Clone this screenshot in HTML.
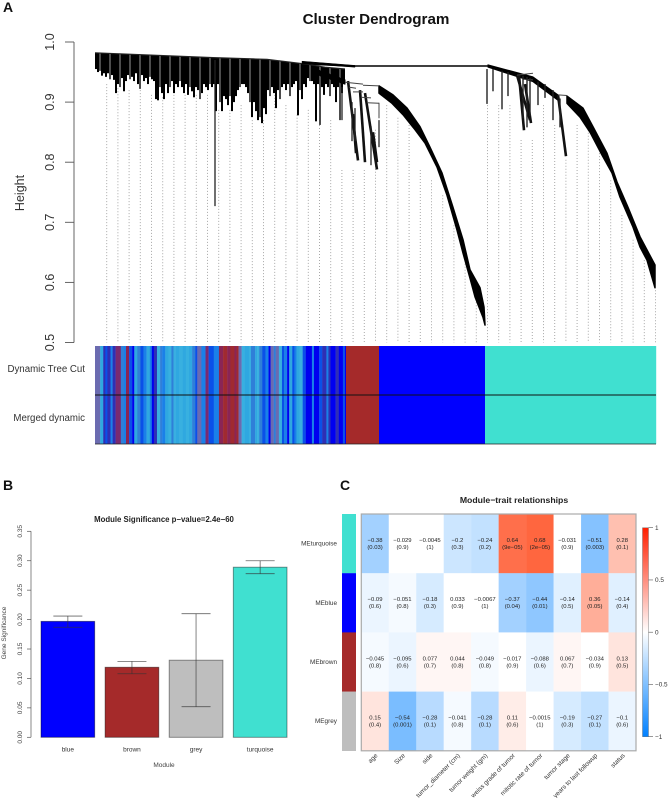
<!DOCTYPE html>
<html lang="en">
<head>
<meta charset="utf-8">
<title>WGCNA module figure</title>
<style>
html,body{margin:0;padding:0;background:#fff;width:669px;height:798px;overflow:hidden}
svg{display:block;filter:blur(0.3px)}
text{font-family:"Liberation Sans",Arial,sans-serif}
</style>
</head>
<body>
<svg id="figure" xmlns="http://www.w3.org/2000/svg" width="669" height="798" viewBox="0 0 669 798">
  <defs>
    <linearGradient id="legendGradient" x1="0" y1="0" x2="0" y2="1">
      <stop offset="0" stop-color="#ff1f00"/>
      <stop offset="0.5" stop-color="#ffffff"/>
      <stop offset="1" stop-color="#0080ff"/>
    </linearGradient>
  </defs>
  <rect width="669" height="798" fill="#fff"/>

  <text x="3" y="12" font-size="14" font-weight="bold" fill="#111">A</text>
  <text x="376" y="24" font-size="15.2" font-weight="bold" text-anchor="middle" fill="#111">Cluster Dendrogram</text>
  <text transform="translate(24,193) rotate(-90)" font-size="12.5" text-anchor="middle" fill="#333">Height</text>
  <text x="85" y="372" font-size="9.7" text-anchor="end" fill="#333">Dynamic Tree Cut</text>
  <text x="85" y="421" font-size="9.7" text-anchor="end" fill="#333">Merged dynamic</text>
  <g id="dendroLayer"></g>
  <g id="stripLayer"></g>

  <text x="3" y="490" font-size="14" font-weight="bold" fill="#111">B</text>
  <text x="164" y="522" font-size="7.8" font-weight="bold" text-anchor="middle" fill="#222">Module Significance p−value=2.4e−60</text>
  <text transform="translate(6,633) rotate(-90)" font-size="6.5" text-anchor="middle" fill="#444">Gene Significance</text>
  <text x="164" y="767" font-size="6.5" text-anchor="middle" fill="#444">Module</text>
  <g id="barLayer"></g>

  <text x="340" y="490" font-size="14" font-weight="bold" fill="#111">C</text>
  <text x="514" y="503" font-size="8.7" font-weight="bold" text-anchor="middle" fill="#222">Module−trait relationships</text>
  <g id="heatLayer"></g>
  <g id="legendLayer"></g>
</svg>

<script>
/* ---------- Dendrogram data (gene rank, merge height) ---------- */
const geneCount = 561;
const heightTicks = [0.5, 0.6, 0.7, 0.8, 0.9, 1.0];
const envelopeRanks = [0, 118, 172, 212, 230, 250];
const envelopeHeights = [0.982, 0.974, 0.971, 0.963, 0.958, 0.955];
const leafBottoms = [
.955,.950,.952,.944,.948,.942,.948,.938,.945,.937,.915,.930,.925,.940,.918,.935,.945,.938,.942,.935,
.948,.930,.922,.945,.935,.940,.930,.942,.938,.935,.905,.903,.925,.915,.905,.930,.915,.925,.935,.915,
.930,.925,.935,.925,.915,.930,.912,.925,.918,.908,.925,.920,.905,.915,.930,.925,.920,.930,.925,.930,
.885,.930,.900,.885,.910,.905,.895,.910,.885,.900,.910,.920,.925,.930,.930,.925,.915,.900,.875,.900,
.885,.870,.875,.865,.890,.880,.920,.910,.925,.915,.890,.920,.905,.925,.930,.920,.930,.910,.925,.930,
.935,.878,.920,.905,.930,.925,.940,.935,.935,.930,.868,.930,.862,.925,.912,.930,.925,.910,.930,.925,
.900,.925,.870,.915,.930];
const longBranchRank = 120;
const longBranchTop = 0.97;
const longBranchBottom = 0.727;
const guideTopHeights = [.930,.923,.920,.920,.912,.908,.912,.912,.912,.912,.887,.887,.895,.870,.870,.912,.895,.879,.887,.862,.870,.787,.787,.787,.854,.895,.874,.862,.787,.770,.745,.695,.646,.587,.895,.895,.895,.837,.837,.895,.862,.804,.862,.854,.820,.770,.712,.671,.637,.587];
const mainMerge = [[212,.963],[260,.960],[393,.960]];
const wedgeToBrownUpper = [[207,.968],[260,.961]];
const wedgeToBrownLower = [[207,.964],[260,.958]];
const blueTrunkUpper = [[220,.955],[250,.937]];
const blueTrunkLower = [[220,.947],[250,.930]];
const blueUpper = [[284,.927],[298,.912],[312,.890],[325,.859],[335,.825],[347,.782],[358,.725],[368,.671],[375,.621],[385,.591],[389,.559],[390,.529]];
const blueLower = [[284,.915],[297,.898],[308,.879],[320,.854],[330,.832],[342,.792],[352,.745],[362,.687],[368,.649],[375,.607],[380,.576],[388,.542],[390,.529]];
const turquoiseTrunkUpper = [[393,.962],[438,.942],[463,.912]];
const turquoiseTrunkLower = [[393,.958],[438,.934],[463,.903]];
const turquoiseUpper = [[472,.910],[488,.890],[498,.859],[512,.815],[522,.767],[533,.725],[545,.676],[560,.629]];
const turquoiseLower = [[472,.898],[485,.875],[495,.850],[507,.812],[517,.782],[525,.742],[538,.692],[545,.659],[552,.637],[560,.591]];
const cascadeBranches = [
  [[253,.935],[263,.803]], [[258,.880],[261,.815]], [[265,.920],[270,.800]], [[270,.915],[282,.788]],
  [[278,.850],[282,.800]], [[463,.912],[471,.810]], [[422,.945],[435,.870]], [[424,.945],[429,.853]],
  [[430,.930],[436,.865]]
];
const stairSteps = [
  [[250,.933],[268,.930]], [[268,.928],[284,.927]], [[254,.925],[261,.923]],
  [[258,.917],[268,.917]], [[266,.908],[276,.907]], [[272,.899],[284,.898]],
  [[284,.899],[284,.873]], [[422,.945],[438,.948]], [[428,.938],[438,.937]],
  [[463,.912],[472,.911]]
];
const sideSpikeRanks = [392,398,407,413,428,432,435,443,450,458,465];
const sideSpikeTops = [.955,.955,.952,.950,.944,.942,.940,.934,.930,.920,.906];
const sideSpikeBottoms = [.897,.918,.888,.910,.873,.858,.877,.895,.907,.870,.858];
const midStubRanks = [257,260,276,284,247];
const midStubTops = [.900,.890,.860,.870,.925];
const midStubBottoms = [.835,.835,.795,.825,.870];

/* ---------- Colour strip data ---------- */
const stripeWidths = [5,3,2,2,3,2,3,5,3,2,3,3,2,3,3,3,3,3,2,2,3,3,2,3,3,3,2,2,4,3,3,3,3,3,2,4,4,3,5,5,4,4,3,4,2,2,3,3,4,2,4,2,2,3,3,3,2,3,2,3,3,2,3,2,3,2,2,3,3,3,6,2,5,3,4,2,2,5,3,4,2,1];
const stripeColours = ["#6b6bb0","#2fa8e0","#2f2fb5","#0a50e8","#2f2fb5","#1a80e8","#2f2fb5","#7a2a70","#2f7fd8","#1a80e8","#8a2555","#0a50e8","#0000f0","#2fa8e0","#2f7fd8","#0a50e8","#1a80e8","#2fa8e0","#1a80e8","#0000f0","#2f2fb5","#38b0e0","#2f7fd8","#1a80e8","#2fa8e0","#38b0e0","#2f7fd8","#38b0e0","#2fa8e0","#38b0e0","#2fa8e0","#38b0e0","#2fa8e0","#2f7fd8","#0a50e8","#6b6bb0","#1a80e8","#7a2a70","#0a50e8","#1a80e8","#8a2555","#a02a30","#8a2555","#a02a30","#8a2555","#a02a30","#6b6bb0","#38b0e0","#2fa8e0","#38b0e0","#2f7fd8","#2fa8e0","#38b0e0","#2f7fd8","#0a50e8","#1a80e8","#0000f0","#6b6bb0","#2f7fd8","#6b6bb0","#38b0e0","#0a50e8","#1a80e8","#0000f0","#2fa8e0","#0a50e8","#1a80e8","#2fa8e0","#38b0e0","#0a50e8","#0000f0","#1a80e8","#0000f0","#0a50e8","#2f2fb5","#1a80e8","#2f2fb5","#0000f0","#2f2fb5","#0000f0","#0a50e8","#0000f0"];
const moduleStripWidths = [33, 106, 171];
const moduleStripColours = ["#a52a2a", "#0000ff", "#40e0d0"];

/* ---------- Bar chart data ---------- */
const barModules = ["blue", "brown", "grey", "turquoise"];
const barColours = ["#0000ff", "#a52a2a", "#bebebe", "#40e0d0"];
const barValues = [0.197, 0.119, 0.131, 0.289];
const barErrHigh = [0.206, 0.129, 0.210, 0.300];
const barErrLow = [0.187, 0.108, 0.052, 0.278];
const barTicks = ["0.00", "0.05", "0.10", "0.15", "0.20", "0.25", "0.30", "0.35"];

/* ---------- Heatmap data ---------- */
const heatModules = ["MEturquoise", "MEblue", "MEbrown", "MEgrey"];
const heatModuleColours = ["#40e0d0", "#0000ff", "#a52a2a", "#bebebe"];
const heatTraits = ["age", "Size", "side", "tumor_diameter (cm)", "tumor weight (gm)", "weiss grade of tumor", "mitotic rate of tumor", "tumor stage", "years to last followup", "status"];
const corrTurquoise = [-0.38, -0.029, -0.0045, -0.2, -0.24, 0.64, 0.68, -0.031, -0.51, 0.28];
const corrBlue = [-0.09, -0.051, -0.18, 0.033, -0.0067, -0.37, -0.44, -0.14, 0.36, -0.14];
const corrBrown = [-0.045, -0.095, 0.077, 0.044, -0.049, -0.017, -0.088, 0.067, -0.034, 0.13];
const corrGrey = [0.15, -0.54, -0.28, -0.041, -0.28, 0.11, -0.0015, -0.19, -0.27, -0.1];
const pTurquoise = ["0.03", "0.9", "1", "0.3", "0.2", "9e−05", "2e−05", "0.9", "0.003", "0.1"];
const pBlue = ["0.6", "0.8", "0.3", "0.9", "1", "0.04", "0.01", "0.5", "0.05", "0.4"];
const pBrown = ["0.8", "0.6", "0.7", "0.8", "0.8", "0.9", "0.6", "0.7", "0.9", "0.5"];
const pGrey = ["0.4", "0.001", "0.1", "0.8", "0.1", "0.6", "1", "0.3", "0.1", "0.6"];
const legendTicks = [1, 0.5, 0, -0.5, -1];

/* ---------- Helpers ---------- */
const NS = "http://www.w3.org/2000/svg";
function mk(tag, attrs, parent) {
  const el = document.createElementNS(NS, tag);
  for (const k in attrs) el.setAttribute(k, attrs[k]);
  parent.appendChild(el);
  return el;
}
const dendroX = r => 95 + r * (561 / geneCount);
const dendroY = h => 42 + (1 - h) * 601;
const ptsOf = arr => arr.map(p => dendroX(p[0]).toFixed(1) + "," + dendroY(p[1]).toFixed(1)).join(" ");
function envelopeAt(r) {
  for (let i = 1; i < envelopeRanks.length; i++) {
    if (r <= envelopeRanks[i]) {
      const t = (r - envelopeRanks[i - 1]) / (envelopeRanks[i] - envelopeRanks[i - 1]);
      return envelopeHeights[i - 1] + t * (envelopeHeights[i] - envelopeHeights[i - 1]);
    }
  }
  return envelopeHeights[envelopeHeights.length - 1];
}

/* ---------- Dendrogram ---------- */
(function () {
  const g = document.getElementById("dendroLayer");
  guideTopHeights.forEach((h, i) => {
    const x = 106.7 + 11.2 * i;
    const guide = mk("line", {x1: x, x2: x, y1: dendroY(h), y2: dendroY(0.5), stroke: "#a8a8a8", "stroke-width": 1, "stroke-dasharray": "1 2"}, g);
    
    
  });
  const axis = mk("line", {x1: 74, x2: 74, y1: dendroY(1), y2: dendroY(0.5), stroke: "#555", "stroke-width": 0.9}, g);
  
  
  heightTicks.forEach(t => {
    const y = dendroY(t);
    const tick = mk("line", {x1: 65, x2: 74, y1: y, y2: y, stroke: "#555", "stroke-width": 0.9}, g);
    
    
    const label = mk("text", {transform: "translate(54," + y + ") rotate(-90)", "font-size": 12.5, "text-anchor": "middle", fill: "#333"}, g);
    label.textContent = t.toFixed(1);
    
    
  });
  leafBottoms.forEach((h, i) => {
    const r = 1 + i * 2;
    const x = dendroX(r);
    const leaf = mk("line", {x1: x, x2: x, y1: dendroY(envelopeAt(r)), y2: dendroY(h), stroke: "#000", "stroke-width": i % 5 === 2 ? 1.4 : 2}, g);
    
    
  });
  const lb = mk("line", {x1: dendroX(longBranchRank), x2: dendroX(longBranchRank), y1: dendroY(longBranchTop), y2: dendroY(longBranchBottom), stroke: "#222", "stroke-width": 1.3}, g);
  
  
  const mm = mk("polyline", {points: ptsOf(mainMerge), fill: "none", stroke: "#000", "stroke-width": 1.4}, g);
  
  
  const envPts = envelopeRanks.map((r, i) => [r, envelopeHeights[i]]);
  const top = mk("polyline", {points: ptsOf(envPts), fill: "none", stroke: "#222", "stroke-width": 1.2}, g);
  
  
  [[wedgeToBrownUpper, wedgeToBrownLower, 0.5], [blueTrunkUpper, blueTrunkLower, 1], [blueUpper, blueLower, 1.5], [turquoiseTrunkUpper, turquoiseTrunkLower, 1], [turquoiseUpper, turquoiseLower, 1.5]].forEach(pair => {
    const band = mk("polygon", {points: ptsOf(pair[0]) + " " + ptsOf(pair[1].slice().reverse()), fill: "#000", stroke: "#000", "stroke-width": pair[2], "stroke-linejoin": "round"}, g);
    
    
  });
  cascadeBranches.forEach(c => {
    const b = mk("polyline", {points: ptsOf(c), fill: "none", stroke: "#111", "stroke-width": 2.6}, g);
    
    
  });
  stairSteps.forEach(c => {
    const b = mk("polyline", {points: ptsOf(c), fill: "none", stroke: "#444", "stroke-width": 1}, g);
    
    
  });
  sideSpikeRanks.forEach((r, i) => {
    const s = mk("line", {x1: dendroX(r), x2: dendroX(r), y1: dendroY(sideSpikeTops[i]), y2: dendroY(sideSpikeBottoms[i]), stroke: "#222", "stroke-width": 1.4}, g);
    
    
  });
  midStubRanks.forEach((r, i) => {
    const s = mk("line", {x1: dendroX(r), x2: dendroX(r), y1: dendroY(midStubTops[i]), y2: dendroY(midStubBottoms[i]), stroke: "#222", "stroke-width": 1.3}, g);
    
    
  });
})();

/* ---------- Colour strips ---------- */
(function () {
  const g = document.getElementById("stripLayer");
  const stripeTotal = stripeWidths.reduce((a, b) => a + b, 0);
  const stripeScale = 251 / stripeTotal;
  let r = 0;
  const add = (w, c) => {
    const s = mk("rect", {x: dendroX(r), y: 346, width: w + 0.2, height: 98, fill: c}, g);
    
    
    r += w;
  };
  stripeWidths.forEach((w, i) => add(w * stripeScale, stripeColours[i]));
  r = 251;
  moduleStripWidths.forEach((w, i) => add(w, moduleStripColours[i]));
  const divider = mk("line", {x1: 95, x2: 656, y1: 395, y2: 395, stroke: "#111", "stroke-width": 1}, g);
  
  
  const bottom = mk("line", {x1: 95, x2: 656, y1: 444, y2: 444, stroke: "#222", "stroke-width": 0.8}, g);
  
  
})();

/* ---------- Bar chart ---------- */
(function () {
  const g = document.getElementById("barLayer");
  const y = v => 737.3 - v * (206 / 0.35);
  const axis = mk("line", {x1: 31, x2: 31, y1: y(0), y2: y(0.35), stroke: "#555", "stroke-width": 0.7}, g);
  
  
  barTicks.forEach(t => {
    const yy = y(parseFloat(t));
    const tick = mk("line", {x1: 27, x2: 31, y1: yy, y2: yy, stroke: "#555", "stroke-width": 0.7}, g);
    
    
    const label = mk("text", {transform: "translate(22," + yy + ") rotate(-90)", "font-size": 6.5, "text-anchor": "middle", fill: "#444"}, g);
    label.textContent = t;
    
    
  });
  barModules.forEach((m, i) => {
    const left = 41 + i * 64.1;
    const w = 53.7;
    const cx = left + w / 2;
    const bar = mk("rect", {x: left, y: y(barValues[i]), width: w, height: y(0) - y(barValues[i]), fill: barColours[i], stroke: "#000", "stroke-opacity": 0.45, "stroke-width": 0.9}, g);
    
    
    const stem = mk("line", {x1: cx, x2: cx, y1: y(barErrHigh[i]), y2: y(barErrLow[i]), stroke: "#333", "stroke-opacity": 0.75, "stroke-width": 0.8}, g);
    
    
    [barErrHigh[i], barErrLow[i]].forEach(v => {
      const cap = mk("line", {x1: cx - 14.5, x2: cx + 14.5, y1: y(v), y2: y(v), stroke: "#333", "stroke-opacity": 0.75, "stroke-width": 0.8}, g);
      
      
    });
    const label = mk("text", {x: cx, y: 751.5, "font-size": 6.5, "text-anchor": "middle", fill: "#333"}, g);
    label.textContent = m;
    
    
  });
})();

/* ---------- Heatmap ---------- */
function corrColour(v) {
  const a = Math.floor(Math.abs(v) / 0.04) * 0.04;
  if (v < 0) return "rgb(" + Math.round(255 - 255 * a) + "," + Math.round(255 - 127 * a) + ",255)";
  return "rgb(255," + Math.round(255 - 225 * a) + "," + Math.max(0, Math.round(255 - 282 * a)) + ")";
}
(function () {
  const g = document.getElementById("heatLayer");
  const corr = [corrTurquoise, corrBlue, corrBrown, corrGrey];
  const pv = [pTurquoise, pBlue, pBrown, pGrey];
  const x0 = 361.3, y0 = 514, cw = 27.47, rh = 59.2;
  corr.forEach((row, r) => {
    const swatch = mk("rect", {x: 342, y: y0 + r * rh, width: 14, height: rh + 0.2, fill: heatModuleColours[r]}, g);
    
    
    const lab = mk("text", {x: 337, y: y0 + r * rh + rh / 2 + 2, "font-size": 6.4, "text-anchor": "end", fill: "#333"}, g);
    lab.textContent = heatModules[r];
    
    
    row.forEach((v, c) => {
      const cell = mk("rect", {x: x0 + c * cw, y: y0 + r * rh, width: cw + 0.2, height: rh + 0.2, fill: corrColour(v)}, g);
      
      
      const cx = x0 + c * cw + cw / 2;
      const cy = y0 + r * rh + rh / 2;
      const t1 = mk("text", {x: cx, y: cy - 1.6, "font-size": 5.9, "text-anchor": "middle", fill: "#222"}, g);
      t1.textContent = String(v).replace("-", "−");
      
      
      const t2 = mk("text", {x: cx, y: cy + 5.3, "font-size": 5.9, "text-anchor": "middle", fill: "#222"}, g);
      t2.textContent = "(" + pv[r][c] + ")";
      
      
    });
  });
  const frame = mk("rect", {x: x0, y: y0, width: cw * 10, height: rh * 4, fill: "none", stroke: "#aaa", "stroke-width": 1.2}, g);
  
  
  heatTraits.forEach((t, c) => {
    const cx = x0 + c * cw + cw / 2 + 3;
    const lab = mk("text", {transform: "translate(" + cx + ",756) rotate(-45)", "font-size": 6.4, "text-anchor": "end", fill: "#333"}, g);
    lab.textContent = t;
    
    
  });
})();

/* ---------- Legend ---------- */
(function () {
  const g = document.getElementById("legendLayer");
  const y = v => 632.2 - v * 104.5;
  const bar = mk("rect", {x: 642.5, y: y(1), width: 6, height: y(-1) - y(1), fill: "url(#legendGradient)", stroke: "#666", "stroke-width": 0.4}, g);
  
  
  legendTicks.forEach(v => {
    const tick = mk("line", {x1: 648.5, x2: 653, y1: y(v), y2: y(v), stroke: "#555", "stroke-width": 0.6}, g);
    
    
    const lab = mk("text", {x: 655, y: y(v) + 2.2, "font-size": 6.4, fill: "#333"}, g);
    lab.textContent = String(v).replace("-", "−");
    
    
  });
})();
</script>
</body>
</html>
